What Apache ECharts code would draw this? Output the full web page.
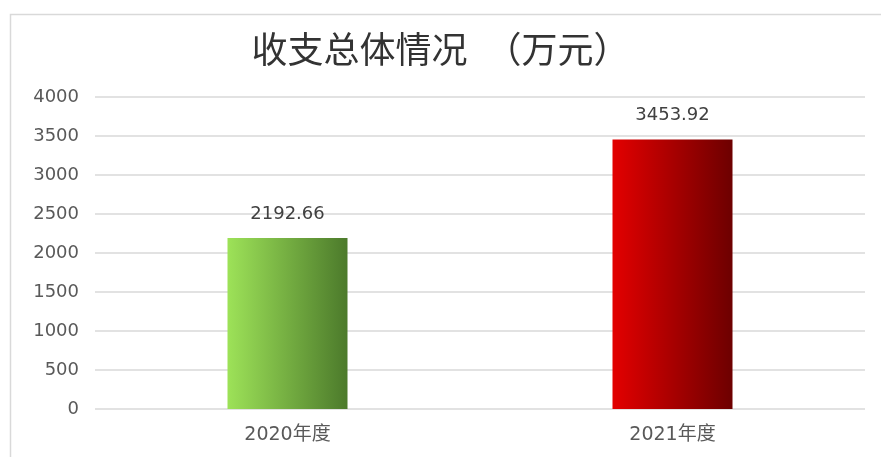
<!DOCTYPE html>
<html>
<head>
<meta charset="utf-8">
<script src="https://cdn.jsdelivr.net/npm/echarts@6/dist/echarts.min.js"></script>
<style>
  html, body { margin: 0; padding: 0; background: #fff; }
  #main { width: 881px; height: 457px; }
</style>
</head>
<body>
<div id="main"></div>
<script>
// data
const categories = ['2020年度', '2021年度'];
const values = [2192.66, 3453.92];
const barColors = [
  ['#9de258', '#4c7a2b'],
  ['#e30000', '#6d0000'],
];

const chart = echarts.init(document.getElementById('main'));

const labelFont = '"DejaVu Sans", "Noto Sans CJK SC", sans-serif';

chart.setOption({
  backgroundColor: '#fff',
  animation: false,
  title: {
    text: '收支总体情况　（万元）',
    left: 'center',
    top: 26,
    textStyle: {
      color: '#333',
      fontSize: 36,
      fontWeight: 'normal',
      fontFamily: '"Noto Sans CJK SC", sans-serif',
    },
  },
  graphic: [
    {
      type: 'rect',
      left: 8,
      top: 12,
      shape: { width: 900, height: 460 },
      style: { fill: 'none', stroke: '#d9d9d9', lineWidth: 1.5 },
      silent: true,
    },
  ],
  grid: {
    left: 95,
    right: 16,
    top: 97,
    bottom: 48,
  },
  xAxis: {
    type: 'category',
    data: categories,
    axisLine: { show: false },
    axisTick: { show: false },
    axisLabel: {
      color: '#595959',
      fontSize: 19,
      margin: 17,
      fontFamily: labelFont,
    },
  },
  yAxis: {
    type: 'value',
    min: 0,
    max: 4000,
    interval: 500,
    axisLine: { show: false },
    axisTick: { show: false },
    axisLabel: {
      color: '#595959',
      fontSize: 18,
      margin: 16,
      fontFamily: labelFont,
      formatter: (v) => String(v),
    },
    splitLine: { lineStyle: { color: '#d9d9d9', width: 1.5 } },
  },
  series: [
    {
      type: 'bar',
      barWidth: 120,
      data: values.map((v, i) => ({
        value: v,
        itemStyle: {
          color: {
            type: 'linear',
            x: 0, y: 0, x2: 1, y2: 0,
            colorStops: [
              { offset: 0, color: barColors[i][0] },
              { offset: 1, color: barColors[i][1] },
            ],
          },
        },
      })),
      label: {
        show: true,
        position: 'top',
        distance: 15,
        color: '#404040',
        fontSize: 18,
        fontFamily: labelFont,
      },
    },
  ],
});
</script>
</body>
</html>
